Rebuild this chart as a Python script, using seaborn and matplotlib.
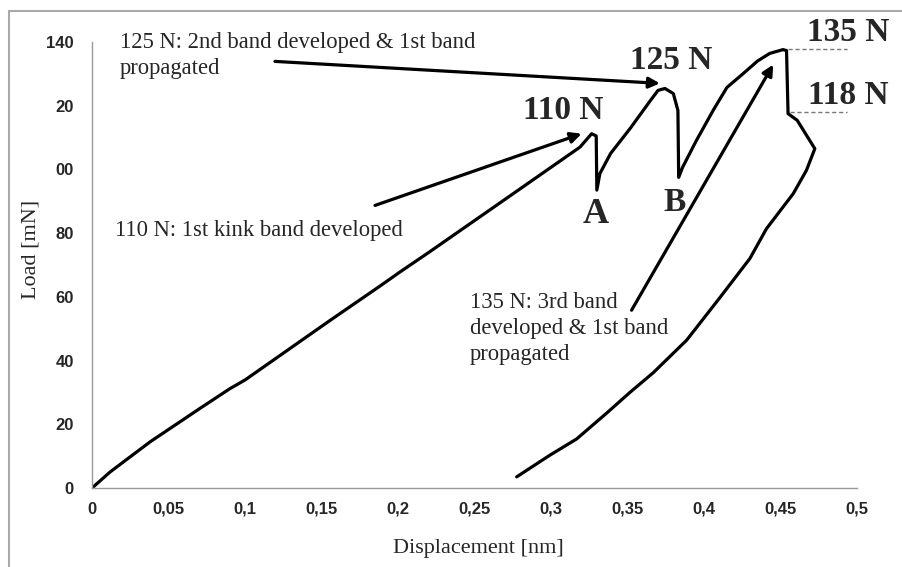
import pandas as pd
import matplotlib.pyplot as plt
import seaborn as sns
from matplotlib.patches import Rectangle

# Load-displacement curve (displacement nm, load mN)
displacement = [0, 0.012, 0.038, 0.0706, 0.0902, 0.1, 0.1556, 0.188, 0.2013, 0.2209,
                0.2667, 0.319, 0.3266, 0.3296, 0.3300,
                0.332, 0.339, 0.352, 0.365, 0.370, 0.3745, 0.380, 0.383, 0.3835,
                0.386, 0.395, 0.406, 0.415, 0.4255, 0.435, 0.443, 0.4517, 0.454, 0.455,
                0.461, 0.4725, 0.467, 0.4584, 0.4409, 0.430, 0.4105, 0.3887, 0.3669,
                0.3516, 0.3364, 0.3168, 0.2993, 0.2776]
load = [0, 5.1, 14.5, 25.0, 31.2, 33.9, 52.6, 63.3, 67.8, 74.2,
        89.5, 107.0, 111.2, 110.5, 93.5,
        98.7, 105.0, 113.0, 121.6, 124.8, 125.4, 123.8, 118.5, 97.5,
        100.6, 109.0, 118.5, 125.7, 130.0, 134.0, 136.4, 137.6, 137.3, 117.5,
        115.4, 106.5, 99.7, 92.4, 81.4, 72.0, 59.8, 46.4, 36.2,
        30.0, 23.5, 15.4, 10.3, 3.5]

x_ticks = [0, 0.05, 0.1, 0.15, 0.2, 0.25, 0.3, 0.35, 0.4, 0.45, 0.5]
x_tick_labels = ["0", "0,05", "0,1", "0,15", "0,2", "0,25", "0,3", "0,35", "0,4", "0,45", "0,5"]
y_ticks = [0, 20, 40, 60, 80, 100, 120, 140]
y_tick_labels = ["0", "20", "40", "60", "80", "00", "20", "140"]

df = pd.DataFrame({"Displacement": displacement, "Load": load})

sns.set_style("white")
serif = "Liberation Serif"
sans = "Liberation Sans"

fig = plt.figure(figsize=(9.02, 5.67), dpi=100)
ax = fig.add_axes([0.102, 0.1393, 0.848, 0.7867])

sns.lineplot(data=df, x="Displacement", y="Load", sort=False, estimator=None,
             color="black", linewidth=2.3, ax=ax)

ax.set_xlim(0, 0.5)
ax.set_ylim(0, 140)
ax.set_xticks(x_ticks)
ax.set_xticklabels(x_tick_labels, fontfamily=sans, fontweight="bold", fontsize=12)
ax.set_yticks(y_ticks)
ax.set_yticklabels(y_tick_labels, fontfamily=sans, fontweight="bold", fontsize=12)
ax.tick_params(axis="x", direction="in", length=4, width=1, color="#999999", pad=10)
ax.tick_params(axis="y", direction="out", length=3, width=1, color="#999999", pad=10)

for side in ["top", "right"]:
    ax.spines[side].set_visible(False)
for side in ["left", "bottom"]:
    ax.spines[side].set_color("#999999")
    ax.spines[side].set_linewidth(1)

ax.set_xlabel("Displacement [nm]", fontfamily=serif, fontsize=16)
ax.set_ylabel("Load [mN]", fontfamily=serif, fontsize=16)
ax.xaxis.set_label_coords(0.505, -0.115)
ax.yaxis.set_label_coords(-0.067, 0.534)

# dashed level markers
ax.plot([0.4549, 0.4935], [137.8, 137.8], ls="--", dashes=(3, 2), color="#777777", lw=1)
ax.plot([0.4560, 0.4935], [118.0, 118.0], ls="--", dashes=(3, 2), color="#777777", lw=1)

# bold labels
bold = dict(fontfamily=serif, fontweight="bold", ha="center", va="center")
ax.text(0.3078, 118.5, "110 N", fontsize=24, **bold)
ax.text(0.3784, 134.2, "125 N", fontsize=24, **bold)
ax.text(0.4941, 142.9, "135 N", fontsize=24, **bold)
ax.text(0.4941, 123.2, "118 N", fontsize=24, **bold)
ax.text(0.3294, 86.0, "A", fontsize=26, **bold)
ax.text(0.3810, 89.7, "B", fontsize=24, **bold)

# annotations with arrows
arrow = dict(arrowstyle="-|>", lw=2.3, color="black", mutation_scale=16,
             shrinkA=0, shrinkB=0)
ax.annotate("", xy=(0.3712, 127.0), xytext=(0.1196, 133.9), arrowprops=arrow)
ax.annotate("", xy=(0.3200, 111.2), xytext=(0.1850, 88.7), arrowprops=arrow)
ax.annotate("", xy=(0.4453, 132.9), xytext=(0.3527, 55.8), arrowprops=arrow)

ax.text(0.0183, 143.0, "125 N: 2nd band developed & 1st band\npropagated",
        fontfamily=serif, fontsize=16.3, ha="left", va="top", linespacing=1.3)
ax.text(0.015, 80.9, "110 N: 1st kink band developed",
        fontfamily=serif, fontsize=16.3, ha="left", va="center")
ax.text(0.247, 61.5, "135 N: 3rd band\ndeveloped & 1st band\npropagated",
        fontfamily=serif, fontsize=16.3, ha="left", va="top", linespacing=1.3)

# outer frame
fig.patches.append(Rectangle((9 / 902, -0.2), 1.5, 0.9806 + 0.2, transform=fig.transFigure,
                             fill=False, edgecolor="#aaaaaa", linewidth=1.5))

fig.savefig("out.png", dpi=100)
